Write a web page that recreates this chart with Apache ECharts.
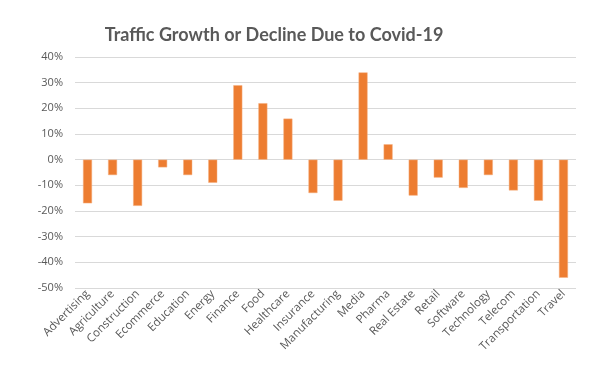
<!DOCTYPE html>
<html>
<head>
<meta charset="utf-8">
<script src="https://cdn.jsdelivr.net/npm/echarts@6/dist/echarts.min.js"></script>
<style>html,body{margin:0;padding:0;background:#fff}#c{width:600px;height:369px}</style>
</head>
<body>
<div id="c"></div>
<script>
var categories = ["Advertising","Agriculture","Construction","Ecommerce","Education","Energy","Finance","Food","Healthcare","Insurance","Manufacturing","Media","Pharma","Real Estate","Retail","Software","Technology","Telecom","Transportation","Travel"];
var growth = [-17,-6,-18,-3,-6,-9,29,22,16,-13,-16,34,6,-14,-7,-11,-6,-12,-16,-46];
var yTicks = {min:-50, max:40, interval:10};

var chart = echarts.init(document.getElementById('c'), null, {renderer:'canvas'});
chart.setOption({
  animation:false,
  title:{
    text:'Traffic Growth or Decline Due to Covid-19',
    left:269, top:21, textAlign:'center',
    textStyle:{fontFamily:'Lato', fontWeight:'bold', fontSize:18, color:'#595959'}
  },
  grid:{left:75, right:24, top:57, bottom:81},
  xAxis:{
    type:'category', data:categories,
    axisLine:{show:false, onZero:false}, axisTick:{show:false},
    axisLabel:{rotate:45, interval:0, margin:4, fontFamily:'Open Sans', fontSize:11.5, fontWeight:500, color:'#595959'}
  },
  yAxis:{
    type:'value', min:yTicks.min, max:yTicks.max, interval:yTicks.interval,
    axisLabel:{formatter:'{value}%', fontFamily:'Open Sans', fontSize:11, fontWeight:500, color:'#595959', margin:12},
    splitLine:{lineStyle:{color:'#d9d9d9', width:1}},
    axisLine:{show:false}, axisTick:{show:false}
  },
  series:[{
    type:'bar', data:growth, barWidth:9,
    itemStyle:{color:'#ED7D31', borderColor:'#F4B183', borderWidth:0.5}
  }]
});
</script>
</body>
</html>
